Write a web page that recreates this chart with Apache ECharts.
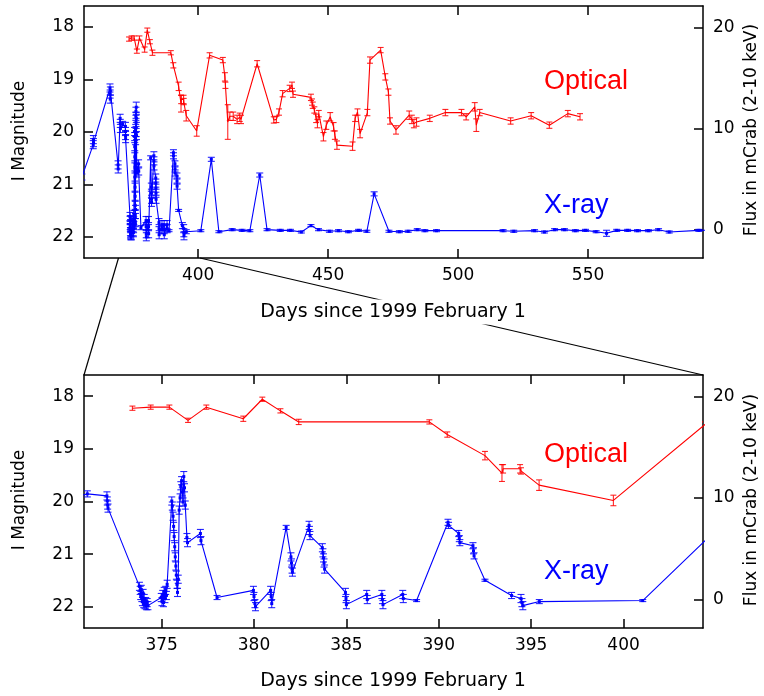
<!DOCTYPE html>
<html>
<head>
<meta charset="utf-8">
<script src="https://cdn.jsdelivr.net/npm/echarts@6/dist/echarts.min.js"></script>
<style>html,body{margin:0;padding:0;background:#fff}#c{width:764px;height:696px}</style>
</head>
<body>
<div id="c"></div>
<script>
// ---- Optical light curve (I magnitude) ----
const optDay = [373.42,374.41,375.42,376.43,377.42,379.42,380.45,381.43,382.42,389.49,
  390.46,392.50,393.42,393.48,394.40,394.45,395.43,399.45,404.41,409.5,
  410.3,410.5,411.4,412.2,413.5,415.0,416.0,416.5,422.7,429.1,
  430.1,431.1,432.5,435.2,436.1,436.5,443.4,443.8,444.1,444.7,
  445.4,445.9,446.4,448.2,449.3,450.8,452.1,452.6,453.4,459.4,
  460.4,461.3,462.3,465.1,466.1,470.2,472.0,473.2,473.8,476.1,
  481.2,482.2,483.0,484.0,489.1,495.1,501.3,503.1,506.4,507.0,
  508.3,520.2,528.1,535.1,542.2,546.9];
const optMag = [18.23,18.21,18.21,18.46,18.21,18.43,18.06,18.28,18.49,18.49,
  18.73,19.13,19.46,19.38,19.38,19.42,19.69,19.98,18.54,18.63,
  18.95,19.11,19.81,19.70,19.70,19.76,19.72,19.76,18.70,19.77,
  19.76,19.62,19.27,19.17,19.11,19.28,19.34,19.43,19.49,19.58,
  19.74,19.84,19.65,20.09,19.87,19.71,19.90,20.06,20.25,20.27,
  19.74,19.62,20.03,19.63,18.63,18.44,18.95,19.24,19.79,19.96,
  19.68,19.76,19.84,19.81,19.74,19.63,19.63,19.71,19.52,19.87,
  19.63,19.79,19.69,19.87,19.65,19.71];
const optErr = [0.04,0.04,0.04,0.04,0.04,0.05,0.04,0.04,0.05,0.04,
  0.05,0.08,0.16,0.08,0.08,0.06,0.10,0.10,0.05,0.05,
  0.08,0.06,0.33,0.08,0.08,0.08,0.08,0.08,0.06,0.06,
  0.06,0.06,0.06,0.06,0.06,0.06,0.06,0.06,0.06,0.06,
  0.08,0.08,0.06,0.08,0.08,0.08,0.08,0.08,0.08,0.08,
  0.06,0.06,0.08,0.06,0.06,0.05,0.06,0.06,0.06,0.08,
  0.08,0.08,0.08,0.08,0.06,0.06,0.06,0.06,0.08,0.12,
  0.06,0.06,0.06,0.06,0.06,0.06];

// ---- X-ray light curve (flux, mCrab 2-10 keV); one row per group ----
const xrDay = [
  355.3,359.65,359.7,359.75,366.1,366.15,366.2,366.25,369.2,369.25,
  370.0,370.05,370.1,370.98,372.04,372.06,372.08,372.10,
  373.8,373.84,373.87,373.9,373.93,373.96,374.0,374.03,374.06,374.1,374.14,374.18,374.22,374.26,
  374.98,375.02,375.06,375.1,375.14,375.18,375.22,375.26,375.3,
  375.55,375.58,375.62,375.65,375.68,375.71,375.74,375.77,375.8,375.83,375.86,375.9,
  375.95,376.0,376.04,376.08,376.12,376.16,376.2,376.24,376.28,376.37,376.4,
  377.1,377.13,378.0,379.97,380.0,380.05,380.08,380.9,380.93,380.96,
  381.74,382.0,382.03,382.06,382.08,382.98,383.0,383.03,383.7,383.73,383.76,383.79,383.82,
  384.95,384.98,385.0,386.1,386.13,386.92,386.95,386.98,388.05,388.08,388.8,
  390.5,390.53,391.08,391.11,391.14,391.85,391.88,391.91,392.5,393.94,394.45,394.5,394.55,395.44,
  401.04,405.07,407.98,413.1,416.95,419.9,423.7,426.5,431.6,435.5,
  439.7,443.4,446.3,450.5,454.0,457.8,461.7,464.9,467.7,473.4,
  477.4,480.8,484.3,487.2,491.7,517.3,521.4,529.4,533.2,537.1,
  540.9,545.1,549.0,553.1,557.1,561.0,565.2,569.0,573.2,577.1,
  581.2,592.6,596.0];
const xrFlux = [
  5.2,8.4,8.9,8.6,14.0,13.4,12.9,13.7,6.4,6.0,
  11.0,10.5,10.0,10.4,10.2,9.7,9.3,9.0,
  1.3,0.9,0.4,1.0,0.2,-0.2,0.6,-0.4,0.1,-0.5,-0.2,-0.6,-0.3,-0.6,
  0.2,-0.2,0.5,-0.3,0.8,0.1,0.9,0.4,1.5,
  9.7,9.2,8.2,7.2,6.2,5.2,4.2,3.3,2.4,1.5,0.7,2.0,
  8.8,10.0,11.2,11.7,10.6,9.6,12.1,11.0,9.3,6.1,5.6,
  6.5,5.8,0.2,0.9,0.3,-0.4,-0.7,0.9,0.3,-0.4,
  7.1,4.2,3.6,3.0,2.7,7.3,6.8,6.3,5.1,4.6,4.1,3.6,3.0,
  0.7,0.1,-0.5,0.5,0.0,0.5,0.0,-0.5,0.5,0.1,-0.1,
  7.6,7.3,6.5,6.0,5.6,5.3,4.8,4.3,1.9,0.4,0.1,-0.3,-0.6,-0.2,
  -0.1,6.95,-0.2,0.0,-0.07,-0.1,5.4,0.0,-0.07,-0.07,
  -0.23,0.4,0.0,-0.16,-0.1,-0.2,-0.07,-0.16,3.54,-0.16,
  -0.2,-0.16,0.0,-0.1,-0.1,-0.1,-0.16,-0.1,-0.23,0.0,
  0.0,-0.1,-0.07,-0.2,-0.36,-0.07,-0.07,-0.1,-0.1,0.0,
  -0.23,-0.07,-0.05];
const xrErr = [
  0.3,0.4,0.4,0.4,0.4,0.4,0.4,0.4,0.4,0.4,
  0.4,0.4,0.4,0.3,0.4,0.4,0.4,0.4,
  0.4,0.4,0.4,0.4,0.4,0.4,0.4,0.4,0.4,0.4,0.4,0.4,0.4,0.4,
  0.4,0.4,0.4,0.4,0.4,0.4,0.4,0.4,0.4,
  0.4,0.4,0.4,0.4,0.4,0.4,0.4,0.4,0.4,0.4,0.4,0.4,
  0.4,0.4,0.4,0.4,0.4,0.4,0.5,0.4,0.4,0.4,0.4,
  0.4,0.4,0.2,0.4,0.4,0.4,0.4,0.4,0.4,0.4,
  0.2,0.4,0.4,0.4,0.4,0.4,0.4,0.4,0.4,0.4,0.4,0.4,0.4,
  0.4,0.4,0.4,0.4,0.4,0.4,0.4,0.4,0.4,0.4,0.1,
  0.3,0.3,0.3,0.3,0.3,0.3,0.3,0.3,0.1,0.3,0.4,0.4,0.4,0.2,
  0.1,0.2,0.1,0.1,0.1,0.1,0.2,0.1,0.1,0.1,
  0.1,0.1,0.1,0.1,0.1,0.1,0.1,0.1,0.2,0.1,
  0.1,0.1,0.1,0.1,0.1,0.1,0.1,0.1,0.1,0.1,
  0.1,0.1,0.1,0.1,0.3,0.1,0.1,0.1,0.1,0.1,
  0.1,0.1,0.1];

// ---- Axis ranges & ticks ----
const topDayRange = [356.1, 594.2];
const botDayRange = [370.8, 404.3];
const topDayTicks = [400, 450, 500, 550];
const botDayTicks = [375, 380, 385, 390, 395, 400];
const magRange = [17.6, 22.4];
const magTicks = [18, 19, 20, 21, 22];
const fluxRange = [-2.8, 22.1];
const fluxTicks = [0, 10, 20];

const RED = '#ff0000', BLUE = '#0000ff';
const FONT = '"DejaVu Sans", sans-serif';

const optData = optDay.map((d, i) => [d, optMag[i], optErr[i]]);
const xrData = xrDay.map((d, i) => [d, xrFlux[i], xrErr[i]]);

function errRender(color, w) {
  return function (params, api) {
    const x = api.value(0), y = api.value(1), e = api.value(2);
    const a = api.coord([x, y - e]), b = api.coord([x, y + e]);
    const st = { stroke: color, lineWidth: 1.1, opacity: 0.85 };
    return { type: 'group', children: [
      { type: 'line', shape: { x1: a[0], y1: a[1], x2: b[0], y2: b[1] }, style: st },
      { type: 'line', shape: { x1: a[0] - w, y1: a[1], x2: a[0] + w, y2: a[1] }, style: st },
      { type: 'line', shape: { x1: b[0] - w, y1: b[1], x2: b[0] + w, y2: b[1] }, style: st }
    ]};
  };
}

const axLine = { show: true, onZero: false, lineStyle: { color: '#000', width: 1.5 } };
function xAx(grid, range, ticks, pos, labels) {
  return { type: 'value', gridIndex: grid, min: range[0], max: range[1], position: pos,
    axisLine: axLine, splitLine: { show: false },
    axisTick: { show: true, inside: true, length: 9, customValues: ticks, lineStyle: { color: '#000', width: 1.5 } },
    axisLabel: { show: labels, customValues: ticks, margin: 9, fontFamily: FONT, fontSize: 17, color: '#000' } };
}
function yAx(grid, range, ticks, pos, inverse) {
  return { type: 'value', gridIndex: grid, min: range[0], max: range[1], position: pos, inverse: inverse,
    axisLine: axLine, splitLine: { show: false },
    axisTick: { show: true, inside: true, length: 9, customValues: ticks, lineStyle: { color: '#000', width: 1.5 } },
    axisLabel: { show: true, customValues: ticks, margin: 10, fontFamily: FONT, fontSize: 17, color: '#000' } };
}

function lineSeries(xi, yi, data, color, sym) {
  return { type: 'line', xAxisIndex: xi, yAxisIndex: yi, data: data.map(p => [p[0], p[1]]),
    showSymbol: !!sym, symbol: sym ? 'rect' : 'none', symbolSize: 3, clip: true, animation: false,
    lineStyle: { color: color, width: 1.1 }, itemStyle: { color: color } };
}
function errSeries(xi, yi, data, color, w) {
  return { type: 'custom', xAxisIndex: xi, yAxisIndex: yi, data: data, clip: true, animation: false,
    encode: { x: 0, y: 1 }, renderItem: errRender(color, w) };
}

const chart = echarts.init(document.getElementById('c'));
chart.setOption({
  animation: false,
  grid: [
    { left: 84, top: 6, width: 619, height: 252 },
    { left: 84, top: 375, width: 619, height: 253 }
  ],
  xAxis: [
    xAx(0, topDayRange, topDayTicks, 'bottom', true),
    xAx(0, topDayRange, topDayTicks, 'top', false),
    xAx(1, botDayRange, botDayTicks, 'bottom', true),
    xAx(1, botDayRange, botDayTicks, 'top', false)
  ],
  yAxis: [
    yAx(0, magRange, magTicks, 'left', true),
    yAx(0, fluxRange, fluxTicks, 'right', false),
    yAx(1, magRange, magTicks, 'left', true),
    yAx(1, fluxRange, fluxTicks, 'right', false)
  ],
  series: [
    lineSeries(0, 0, optData, RED, false), errSeries(0, 0, optData, RED, 3),
    lineSeries(0, 1, xrData, BLUE, true), errSeries(0, 1, xrData, BLUE, 3.5),
    lineSeries(2, 2, optData, RED, false), errSeries(2, 2, optData, RED, 3),
    lineSeries(2, 3, xrData, BLUE, true), errSeries(2, 3, xrData, BLUE, 3.5)
  ],
  graphic: [
    { type: 'line', z: 50, shape: { x1: 118.5, y1: 258, x2: 84, y2: 375 }, style: { stroke: '#000', lineWidth: 1.2 } },
    { type: 'line', z: 50, shape: { x1: 200, y1: 258, x2: 703, y2: 375 }, style: { stroke: '#000', lineWidth: 1.2 } },
    { type: 'text', z: 60, x: 393, y: 312, style: { text: 'Days since 1999 February 1', font: '19px ' + FONT, fill: '#000',
      align: 'center', verticalAlign: 'middle', backgroundColor: '#fff', padding: [3, 4] } },
    { type: 'text', z: 60, x: 393, y: 681, style: { text: 'Days since 1999 February 1', font: '19px ' + FONT, fill: '#000',
      align: 'center', verticalAlign: 'middle' } },
    { type: 'text', z: 60, x: 20, y: 131, rotation: Math.PI / 2, style: { text: 'I Magnitude', font: '17px ' + FONT, fill: '#000', align: 'center', verticalAlign: 'middle' } },
    { type: 'text', z: 60, x: 20, y: 500, rotation: Math.PI / 2, style: { text: 'I Magnitude', font: '17px ' + FONT, fill: '#000', align: 'center', verticalAlign: 'middle' } },
    { type: 'text', z: 60, x: 752, y: 130, rotation: Math.PI / 2, style: { text: 'Flux in mCrab (2-10 keV)', font: '17px ' + FONT, fill: '#000', align: 'center', verticalAlign: 'middle' } },
    { type: 'text', z: 60, x: 752, y: 500, rotation: Math.PI / 2, style: { text: 'Flux in mCrab (2-10 keV)', font: '17px ' + FONT, fill: '#000', align: 'center', verticalAlign: 'middle' } },
    { type: 'text', z: 60, x: 544, y: 82, style: { text: 'Optical', font: '27px "Liberation Sans", Arial, sans-serif', fill: RED, align: 'left', verticalAlign: 'middle' } },
    { type: 'text', z: 60, x: 544, y: 206, style: { text: 'X-ray', font: '27px "Liberation Sans", Arial, sans-serif', fill: BLUE, align: 'left', verticalAlign: 'middle' } },
    { type: 'text', z: 60, x: 544, y: 455, style: { text: 'Optical', font: '27px "Liberation Sans", Arial, sans-serif', fill: RED, align: 'left', verticalAlign: 'middle' } },
    { type: 'text', z: 60, x: 544, y: 572, style: { text: 'X-ray', font: '27px "Liberation Sans", Arial, sans-serif', fill: BLUE, align: 'left', verticalAlign: 'middle' } }
  ]
});
</script>
</body>
</html>
